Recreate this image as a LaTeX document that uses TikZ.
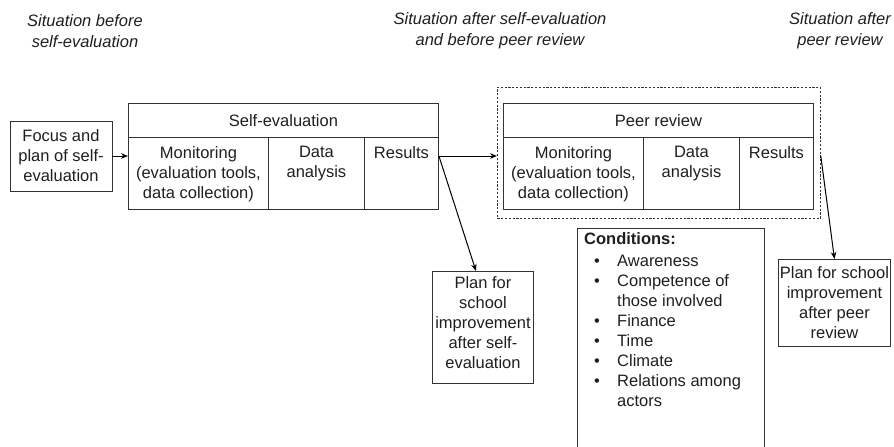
\documentclass[tikz,border=0pt]{standalone}
\usepackage{fontspec}
\setmainfont{Liberation Sans}
\usetikzlibrary{arrows.meta,calc}
% one bullet line of the conditions list, and its continuation indent
\newcommand\condbullet[1]{\makebox[33pt][l]{\hspace*{10pt}\textbullet}#1}
\newcommand\condcont[1]{\hspace*{33pt}#1}
\begin{document}
\begin{tikzpicture}[x=1pt,y=-1pt,
  every node/.style={font=\fontsize{16.5}{20}\selectfont, inner sep=0pt, text=black!88},
  frame/.style={draw=black!80, line width=0.9pt},
  cell/.style={frame, anchor=north west},
  celltext/.style={anchor=north, align=center},
  heading/.style={font=\fontsize{16.5}{21}\selectfont\itshape, align=center},
  arr/.style={draw=black, line width=1pt, -{Stealth[length=7pt,width=5.5pt]}},
]
\useasboundingbox (0,0) rectangle (894,447);

% phase headings
\node[heading] (h1) at (85,31) {Situation before\\self-evaluation};
\node[heading] (h2) at (500,31) {Situation after self-evaluation\\and before peer review};
\node[heading] (h3) at (840,31) {Situation after\\peer review};

% starting point
\node[frame, minimum width=102, minimum height=70, align=center] (focus) at (61,156)
  {Focus and\\plan of self-\\evaluation};

% self-evaluation block
\node[cell, minimum width=310, minimum height=34] (seh) at (128,103) {Self-evaluation};
\node[cell, minimum width=140, minimum height=72] (semon) at (128,137) {};
\node[cell, minimum width=96, minimum height=72] (sedat) at (268,137) {};
\node[cell, minimum width=74, minimum height=72] (seres) at (364,137) {};
\node[celltext] (semont) at ($(semon.north)+(0,9)$) {Monitoring\\(evaluation tools,\\data collection)};
\node[celltext] (sedatt) at ($(sedat.north)+(0,9)$) {Data\\analysis};
\node[celltext] (serest) at ($(seres.north)+(0,9)$) {Results};

% peer review block inside its dashed zone
\node[draw=black!80, line width=0.8pt, dash pattern=on 2.2pt off 1.6pt, anchor=north west,
  minimum width=323, minimum height=131] (peerzone) at (497,87) {};
\node[cell, minimum width=310, minimum height=34] (prh) at (503,103) {Peer review};
\node[cell, minimum width=140, minimum height=72] (prmon) at (503,137) {};
\node[cell, minimum width=96, minimum height=72] (prdat) at (643,137) {};
\node[cell, minimum width=74, minimum height=72] (prres) at (739,137) {};
\node[celltext] (prmont) at ($(prmon.north)+(0,9)$) {Monitoring\\(evaluation tools,\\data collection)};
\node[celltext] (prdatt) at ($(prdat.north)+(0,9)$) {Data\\analysis};
\node[celltext] (prrest) at ($(prres.north)+(0,9)$) {Results};

% improvement plans
\node[cell, minimum width=101, minimum height=112] (plan1) at (432,271) {};
\node[celltext] (plan1t) at ($(plan1.north)+(0,5)$) {Plan for\\school\\improvement\\after self-\\evaluation};
\node[cell, minimum width=112, minimum height=87, align=center] (plan2) at (778,259)
  {Plan for school\\improvement\\after peer\\review};

% conditions (box runs past the lower edge)
\node[cell, minimum width=187, minimum height=240] (cond) at (577,228) {};
\node[anchor=north west, align=left] (condt) at (584,232) {%
  \textbf{Conditions:}\\[2pt]
  \condbullet{Awareness}\\
  \condbullet{Competence of}\\
  \condcont{those involved}\\
  \condbullet{Finance}\\
  \condbullet{Time}\\
  \condbullet{Climate}\\
  \condbullet{Relations among}\\
  \condcont{actors}};

% connectors
\draw[arr] (focus.east) -- (focus.east -| seh.west);
\coordinate (fork) at ($(seres.north east)+(0,19)$);
\draw[arr] (fork) -- (fork -| peerzone.west);
\draw[arr] (fork) -- ($(plan1.north)+(-7,0)$);
\coordinate (pfork) at (peerzone.east |- fork);
\draw[arr] (pfork) -- (plan2.north);
\end{tikzpicture}
\end{document}
